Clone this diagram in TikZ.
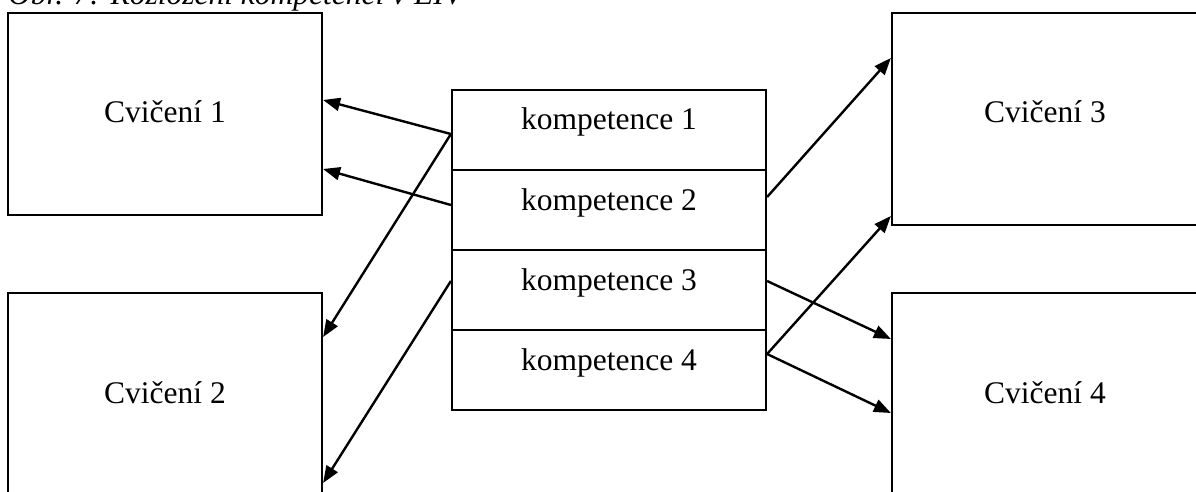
\documentclass[tikz,border=0pt]{standalone}
\usepackage{fontspec}
\setmainfont{Liberation Serif}
\usetikzlibrary{arrows.meta}
\begin{document}
\begin{tikzpicture}[x=1pt,y=-1pt,
  every node/.style={font=\fontsize{31.5}{36}\selectfont},
  box/.style={draw,line width=2.2pt,inner sep=0pt,minimum width=314pt},
  kbox/.style={box,minimum height=80pt},
  lbl/.style={anchor=base,inner sep=0pt},
  link/.style={line width=2.4pt,-{Triangle[length=17pt,width=13pt]}}]
\useasboundingbox (0,0) rectangle (1196,492);
\clip (0,0) rectangle (1196,492);

% caption above the figure (partly cut by the page edge)
\node[anchor=base west,inner sep=0pt,font=\fontsize{31.5}{36}\selectfont\itshape] (cap) at (8,5)
  {Obr. 7: Rozložení kompetencí v EIV};

% exercise boxes
\node[box,minimum height=202pt] (c1) at (165,114) {};
\node[box,minimum height=202pt] (c2) at (165,394) {};
\node[box,minimum height=212pt] (c3) at (1049,119) {};
\node[box,minimum height=202pt] (c4) at (1049,394) {};
\node[lbl] (t1) at (165,123) {Cvičení 1};
\node[lbl] (t2) at (165,403) {Cvičení 2};
\node[lbl] (t3) at (1045,123) {Cvičení 3};
\node[lbl] (t4) at (1045,403) {Cvičení 4};

% stack of competences
\node[kbox] (k1) at (609,130) {};
\node[kbox] (k2) at (609,210) {};
\node[kbox] (k3) at (609,290) {};
\node[kbox] (k4) at (609,370) {};
\node[lbl] (tk1) at (609,130) {kompetence 1};
\node[lbl] (tk2) at (609,210) {kompetence 2};
\node[lbl] (tk3) at (609,290) {kompetence 3};
\node[lbl] (tk4) at (609,370) {kompetence 4};

% connections
\draw[link] ([yshift=-4pt]k1.west) -- ([yshift=14pt]c1.east);
\draw[link] ([yshift=5pt]k2.west) -- ([yshift=-55pt]c1.east);
\draw[link] ([yshift=-4pt]k1.west) -- ([yshift=57pt]c2.east);
\draw[link] ([yshift=9pt]k3.west) -- ([yshift=-89pt]c2.east);
\draw[link] ([yshift=13pt]k2.east) -- ([yshift=61pt]c3.west);
\draw[link] ([yshift=9pt]k3.east) -- ([yshift=55pt]c4.west);
\draw[link] ([yshift=16pt]k4.east) -- ([yshift=-19pt]c4.west);
\draw[link] ([yshift=16pt]k4.east) -- ([yshift=-97pt]c3.west);
\end{tikzpicture}
\end{document}
